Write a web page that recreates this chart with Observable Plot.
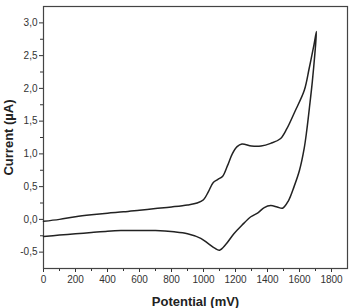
<!DOCTYPE html>
<html>
<head>
<meta charset="utf-8">
<script src="https://cdn.jsdelivr.net/npm/d3@7"></script>
<script src="https://cdn.jsdelivr.net/npm/@observablehq/plot@0.6"></script>
<style>
  html, body { margin: 0; padding: 0; background: #fff; }
  #chart svg { display: block; }
</style>
</head>
<body>
<div id="chart"></div>
<script>
// Anodic (forward) scan: potential in mV, current in µA
const forwardPotential = [0, 100, 200, 300, 400, 500, 600, 700, 800, 900, 960, 1000, 1030, 1060, 1090, 1120, 1150, 1180, 1210, 1240, 1300, 1360, 1420, 1480, 1520, 1570, 1630, 1660, 1690, 1706];
const forwardCurrent   = [-0.03, 0.0, 0.04, 0.07, 0.095, 0.115, 0.14, 0.165, 0.19, 0.22, 0.25, 0.3, 0.42, 0.56, 0.61, 0.66, 0.82, 1.0, 1.11, 1.15, 1.12, 1.12, 1.16, 1.23, 1.38, 1.64, 1.97, 2.3, 2.66, 2.87];

// Cathodic (reverse) scan
const reversePotential = [1706, 1695, 1680, 1666, 1645, 1629, 1600, 1566, 1530, 1494, 1460, 1420, 1380, 1340, 1296, 1240, 1190, 1140, 1100, 1070, 1030, 983, 900, 816, 700, 600, 483, 400, 300, 200, 100, 0];
const reverseCurrent   = [2.87, 2.5, 2.1, 1.79, 1.35, 1.08, 0.75, 0.5, 0.28, 0.17, 0.19, 0.21, 0.18, 0.1, 0.04, -0.09, -0.22, -0.38, -0.47, -0.44, -0.37, -0.29, -0.22, -0.19, -0.17, -0.17, -0.17, -0.18, -0.2, -0.22, -0.24, -0.26];

// Axis ticks
const xMajorTicks = [0, 200, 400, 600, 800, 1000, 1200, 1400, 1600, 1800];
const xMinorTicks = [100, 300, 500, 700, 900, 1100, 1300, 1500, 1700];
const yMajorTicks = [-0.5, 0, 0.5, 1, 1.5, 2, 2.5, 3];
const yMinorTicks = [-0.25, 0.25, 0.75, 1.25, 1.75, 2.25, 2.75];

// One closed voltammogram loop
const loop = [
  ...forwardPotential.map((p, i) => ({potential: p, current: forwardCurrent[i]})),
  ...reversePotential.slice(1).map((p, i) => ({potential: p, current: reverseCurrent[i + 1]}))
];

const commaFmt = d => d.toFixed(1).replace(".", ",");
const ink = "#333";

const chart = Plot.plot({
  width: 349,
  height: 308,
  marginLeft: 43,
  marginRight: 2,
  marginTop: 6,
  marginBottom: 40,
  style: {fontFamily: "'Liberation Sans', Arial, sans-serif", fontSize: "10px", color: ink, background: "#fff"},
  x: {domain: [0, 1900], label: null},
  y: {domain: [-0.75, 3.25], label: null},
  marks: [
    Plot.axisX(xMinorTicks, {tickSize: 3, text: null, stroke: ink, label: null}),
    Plot.axisX(xMajorTicks, {tickSize: 4, tickPadding: 3, fill: ink, stroke: ink, tickFormat: d => String(d),
      label: "Potential (mV)", labelAnchor: "center", labelArrow: "none", labelOffset: 37}),
    Plot.axisY(yMinorTicks, {tickSize: 3, text: null, stroke: ink, label: null}),
    Plot.axisY(yMajorTicks, {tickSize: 4, tickPadding: 2, fill: ink, stroke: ink, tickFormat: commaFmt,
      label: "Current (µA)", labelAnchor: "center", labelArrow: "none", labelOffset: 40}),
    Plot.frame({stroke: "#444", strokeWidth: 1.2}),
    Plot.line(loop, {x: "potential", y: "current", curve: "catmull-rom", stroke: "#222", strokeWidth: 1.5})
  ]
});

// Bold axis titles
d3.select(chart).selectAll("g[aria-label='x-axis label'] text, g[aria-label='y-axis label'] text")
  .style("font-weight", "bold").style("font-size", "13px").style("fill", "#222");

document.getElementById("chart").appendChild(chart);
</script>
</body>
</html>
